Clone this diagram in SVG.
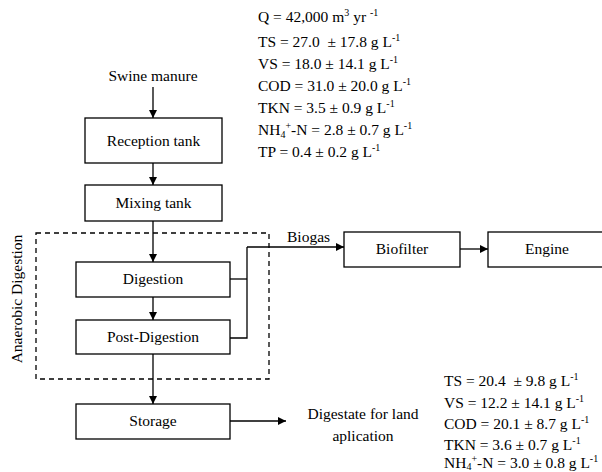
<svg xmlns="http://www.w3.org/2000/svg" width="602" height="472" viewBox="0 0 602 472">
<defs>
<marker id="ah" viewBox="0 0 10 10" refX="10" refY="5" markerWidth="9" markerHeight="8" markerUnits="userSpaceOnUse" orient="auto">
<path d="M0,0 L10,5 L0,10 z" fill="#000"/>
</marker>
<style>
text{font-family:"Liberation Serif","Times New Roman",serif;font-size:15.5px;fill:#000;white-space:pre}
.box{fill:#fff;stroke:#000;stroke-width:1.3}
.c{text-anchor:middle}
.ln{fill:none;stroke:#000;stroke-width:1.3}
.ar{fill:none;stroke:#000;stroke-width:1.3;marker-end:url(#ah)}
.s{font-size:10px}
</style>
</defs>
<rect width="602" height="472" fill="#fff"/>
<g id="group-ad">
<rect x="36" y="233" width="233" height="146" fill="none" stroke="#000" stroke-width="1.3" stroke-dasharray="5,4"/>
<text class="c" transform="translate(22,299) rotate(-90)">Anaerobic Digestion</text>
</g>
<g id="connectors">
<line class="ar" x1="153" y1="87" x2="153" y2="118"/>
<line class="ar" x1="153" y1="163" x2="153" y2="185"/>
<line class="ar" x1="153" y1="221" x2="153" y2="262"/>
<line class="ar" x1="153" y1="297" x2="153" y2="320"/>
<line class="ar" x1="153" y1="354" x2="153" y2="404"/>
<polyline class="ln" points="230,279 247,279"/>
<polyline class="ln" points="230,338 247,338 247,247"/>
<line class="ar" x1="247" y1="247" x2="344" y2="247"/>
<line class="ar" x1="460" y1="249" x2="488" y2="249"/>
<line class="ar" x1="230" y1="421" x2="286" y2="421"/>
<text x="287" y="242">Biogas</text>
</g>
<g id="swine">
<text class="c" x="153" y="81">Swine manure</text>
</g>
<g id="reception">
<rect class="box" x="85" y="118" width="137" height="45"/>
<text class="c" x="153.5" y="146">Reception tank</text>
</g>
<g id="mixing">
<rect class="box" x="85" y="185" width="137" height="36"/>
<text class="c" x="153.5" y="208">Mixing tank</text>
</g>
<g id="digestion">
<rect class="box" x="76" y="262" width="154" height="35"/>
<text class="c" x="153" y="284">Digestion</text>
</g>
<g id="postdigestion">
<rect class="box" x="76" y="320" width="154" height="34"/>
<text class="c" x="153" y="342">Post-Digestion</text>
</g>
<g id="storage">
<rect class="box" x="76" y="404" width="154" height="35"/>
<text class="c" x="153" y="426">Storage</text>
</g>
<g id="biofilter">
<rect class="box" x="344" y="232" width="116" height="35"/>
<text class="c" x="402" y="254">Biofilter</text>
</g>
<g id="engine">
<rect class="box" x="488" y="232" width="120" height="35"/>
<text class="c" x="547" y="254">Engine</text>
</g>
<g id="influent">
<text x="258" y="22">Q = 42,000 m<tspan class="s" dy="-6">3</tspan><tspan dy="6"> yr </tspan><tspan class="s" dy="-6">-1</tspan></text>
<text x="258" y="47">TS = 27.0  ± 17.8 g L<tspan class="s" dy="-6">-1</tspan></text>
<text x="258" y="69">VS = 18.0 ± 14.1 g L<tspan class="s" dy="-6">-1</tspan></text>
<text x="258" y="91">COD = 31.0 ± 20.0 g L<tspan class="s" dy="-6">-1</tspan></text>
<text x="258" y="113">TKN = 3.5 ± 0.9 g L<tspan class="s" dy="-6">-1</tspan></text>
<text x="258" y="135">NH<tspan class="s" dy="3">4</tspan><tspan class="s" dy="-9">+</tspan><tspan dy="6">-N = 2.8 ± 0.7 g L</tspan><tspan class="s" dy="-6">-1</tspan></text>
<text x="258" y="157">TP = 0.4 ± 0.2 g L<tspan class="s" dy="-6">-1</tspan></text>
</g>
<g id="digestate">
<text class="c" x="363" y="419">Digestate for land</text>
<text class="c" x="363" y="441">aplication</text>
<text x="444" y="386">TS = 20.4  ± 9.8 g L<tspan class="s" dy="-6">-1</tspan></text>
<text x="444" y="408">VS = 12.2 ± 14.1 g L<tspan class="s" dy="-6">-1</tspan></text>
<text x="444" y="429">COD = 20.1 ± 8.7 g L<tspan class="s" dy="-6">-1</tspan></text>
<text x="444" y="450">TKN = 3.6 ± 0.7 g L<tspan class="s" dy="-6">-1</tspan></text>
<text x="444" y="468">NH<tspan class="s" dy="2">4</tspan><tspan class="s" dy="-8">+</tspan><tspan dy="6">-N = 3.0 ± 0.8 g L</tspan><tspan class="s" dy="-6">-1</tspan></text>
</g>
</svg>
